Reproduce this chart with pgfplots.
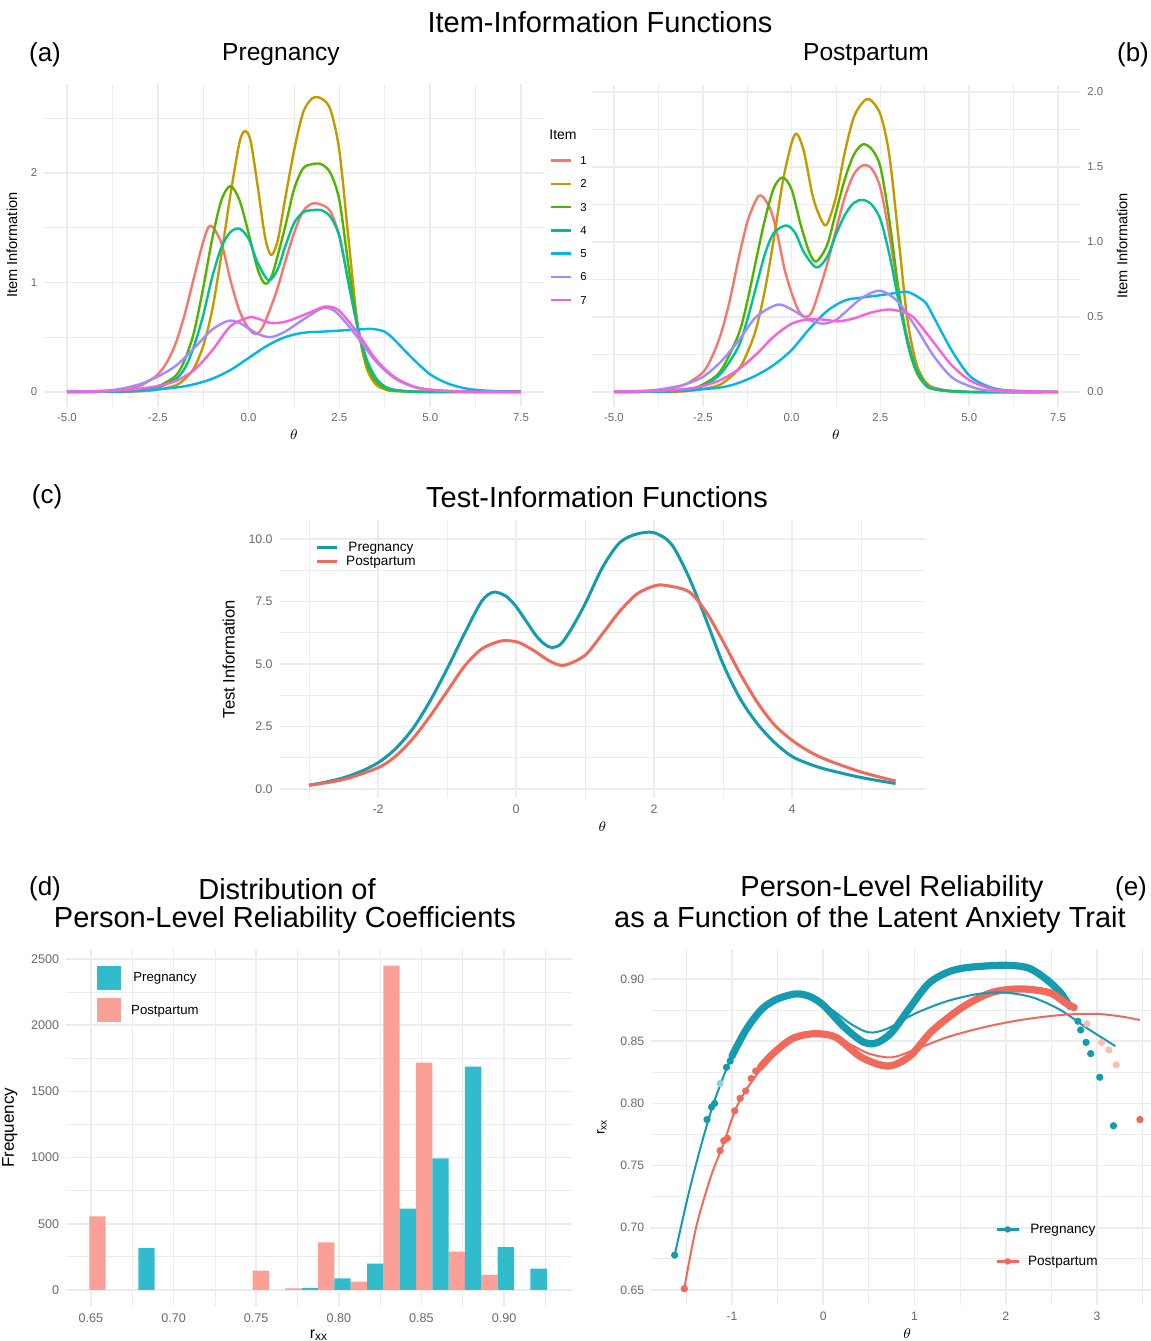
\documentclass[border=0pt]{standalone}
\usepackage{fontspec}
\setmainfont{Liberation Sans}
\usepackage{pgfplots}
\pgfplotsset{compat=1.18}

% ggplot-like colours
\definecolor{gridc}{RGB}{236,236,236}
\definecolor{tickc}{RGB}{105,105,105}
\definecolor{itemA}{HTML}{F8766D}
\definecolor{itemB}{HTML}{C49A00}
\definecolor{itemC}{HTML}{53B400}
\definecolor{itemD}{HTML}{00C094}
\definecolor{itemE}{HTML}{00B6EB}
\definecolor{itemF}{HTML}{A58AFF}
\definecolor{itemG}{HTML}{FB61D7}
\definecolor{pregC}{RGB}{20,155,175}
\definecolor{postC}{RGB}{240,105,90}
\definecolor{pregBar}{RGB}{50,186,205}
\definecolor{postBar}{RGB}{250,160,150}
\definecolor{pregLight}{RGB}{140,210,225}
\definecolor{postLight}{RGB}{250,190,180}

\newcommand\fs[1]{\fontsize{#1}{#1}\selectfont}

\pgfplotsset{
  gg/.style={
    scale only axis, anchor=south west,
    axis line style={draw=none},
    major tick length=0pt, minor tick length=0pt,
    xmajorgrids, ymajorgrids, xminorgrids, yminorgrids,
    major grid style={color=gridc, line width=0.8pt},
    minor grid style={color=gridc, line width=0.4pt},
    tick label style={text=tickc},
    every axis plot/.append style={line join=round},
  },
  item/.style={gg,
    xmin=-5.625, xmax=8.125,
    xtick={-5,-2.5,0,2.5,5,7.5},
    xticklabels={-5.0,-2.5,0.0,2.5,5.0,7.5},
    minor xtick={-3.75,-1.25,1.25,3.75,6.25},
    tick label style={font=\fs{5.7}},
    xlabel={$\theta$}, xlabel style={font=\fs{7}, yshift=3pt},
    ylabel={Item Information}, ylabel style={font=\fs{7.3}},
    every axis plot/.append style={smooth, line width=1.2pt},
  },
}

\begin{document}
\begin{tikzpicture}
\useasboundingbox (0,0) rectangle (575.5pt,670.5pt);

% ---------- titles ----------
\node[font=\fs{14.5}] at (300pt,659.5pt) {Item-Information Functions};
\node[font=\fs{13}] at (22.5pt,643pt) {(a)};
\node[font=\fs{12.3}] at (140.5pt,643pt) {Pregnancy};
\node[font=\fs{12.3}] at (433pt,643pt) {Postpartum};
\node[font=\fs{13}] at (566.5pt,643pt) {(b)};
\node[font=\fs{14.5}] at (298.5pt,422pt) {Test-Information Functions};
\node[font=\fs{13}] at (23.5pt,422pt) {(c)};
\node[font=\fs{13}] at (22.5pt,226pt) {(d)};
\node[font=\fs{14.5}] at (143.5pt,226pt) {Distribution of};
\node[font=\fs{14.5}] at (142.5pt,210.5pt) {Person-Level Reliability Coefficients};
\node[font=\fs{14.5}] at (446pt,226pt) {Person-Level Reliability};
\node[font=\fs{14.5}] at (435pt,210.5pt) {as a Function of the Latent Anxiety Trait};
\node[font=\fs{13}] at (565.5pt,226pt) {(e)};
\node[font=\fs{7}] at (281.5pt,603pt) {Item};

% ---------- (a) Pregnancy items ----------
\begin{axis}[item, at={(22.15pt,467.15pt)}, width=249.7pt, height=161.5pt,
  ymin=-0.135, ymax=2.815, ytick={0,1,2}, yticklabels={0,1,2},
  minor ytick={0.5,1.5,2.5},
  legend style={at={(1.012,0.776)}, anchor=north west, draw=none, fill=none,
    inner sep=0pt, font=\fs{5.7}, row sep=7.65pt, column sep=4pt,
    nodes={inner sep=0pt, text height=4pt, text depth=0pt}},
  legend image code/.code={\draw[#1, line width=1.2pt] (0pt,0pt) -- (10pt,0pt);},
]
\addplot[itemA] coordinates {(-5,0) (-4,0.005) (-3.5,0.02) (-3,0.055) (-2.75,0.1) (-2.5,0.16) (-2.25,0.27) (-2,0.45) (-1.75,0.72) (-1.5,1.05) (-1.25,1.37) (-1.05,1.52) (-0.75,1.36) (-0.5,1.02) (-0.25,0.74) (0,0.58) (0.2,0.53) (0.4,0.6) (0.75,0.9) (1,1.18) (1.25,1.45) (1.5,1.65) (1.75,1.72) (2,1.71) (2.25,1.65) (2.5,1.42) (2.75,1.0) (3,0.58) (3.25,0.27) (3.5,0.11) (3.75,0.045) (4,0.018) (4.5,0.004) (5,0.001) (6,0) (7.5,0)};
\addplot[itemB] coordinates {(-5,0) (-3.5,0.002) (-3,0.006) (-2.5,0.02) (-2,0.06) (-1.75,0.12) (-1.5,0.22) (-1.25,0.42) (-1,0.75) (-0.75,1.25) (-0.5,1.8) (-0.25,2.28) (-0.1,2.38) (0.05,2.3) (0.25,1.88) (0.45,1.42) (0.62,1.25) (0.8,1.38) (1,1.75) (1.25,2.2) (1.5,2.55) (1.75,2.68) (2,2.68) (2.25,2.58) (2.5,2.2) (2.75,1.4) (3,0.62) (3.25,0.22) (3.5,0.07) (3.75,0.025) (4,0.008) (5,0) (7.5,0)};
\addplot[itemC] coordinates {(-5,0) (-4,0.002) (-3,0.012) (-2.5,0.05) (-2,0.15) (-1.75,0.3) (-1.5,0.55) (-1.25,0.95) (-1,1.4) (-0.75,1.75) (-0.5,1.88) (-0.25,1.75) (0,1.45) (0.25,1.12) (0.45,0.99) (0.65,1.07) (1,1.5) (1.25,1.85) (1.5,2.04) (1.75,2.08) (2,2.08) (2.25,2.0) (2.5,1.75) (2.75,1.15) (3,0.6) (3.25,0.26) (3.5,0.1) (3.75,0.035) (4,0.012) (5,0) (7.5,0)};
\addplot[itemD] coordinates {(-5,0) (-4,0.002) (-3,0.012) (-2.5,0.04) (-2,0.12) (-1.75,0.22) (-1.5,0.42) (-1.25,0.7) (-1,1.05) (-0.75,1.32) (-0.5,1.46) (-0.25,1.49) (0,1.4) (0.25,1.18) (0.55,1.02) (0.8,1.12) (1,1.32) (1.25,1.54) (1.5,1.64) (1.75,1.66) (2,1.66) (2.25,1.6) (2.5,1.42) (2.75,1.0) (3,0.6) (3.25,0.3) (3.5,0.13) (3.75,0.05) (4,0.02) (4.5,0.003) (5,0) (7.5,0)};
\addplot[itemE] coordinates {(-5,0) (-4,0.003) (-3,0.012) (-2,0.04) (-1.5,0.07) (-1,0.12) (-0.5,0.2) (0,0.31) (0.5,0.42) (1,0.5) (1.5,0.54) (2,0.55) (2.5,0.56) (3,0.57) (3.4,0.575) (3.75,0.55) (4,0.48) (4.5,0.31) (5,0.16) (5.5,0.075) (6,0.03) (6.5,0.012) (7,0.005) (7.5,0.002)};
\addplot[itemF] coordinates {(-5,0.002) (-4,0.01) (-3.5,0.03) (-3,0.07) (-2.5,0.14) (-2,0.24) (-1.5,0.4) (-1,0.57) (-0.55,0.65) (-0.25,0.63) (0,0.58) (0.25,0.53) (0.6,0.5) (1,0.55) (1.5,0.66) (2,0.76) (2.25,0.76) (2.5,0.7) (3,0.5) (3.5,0.28) (4,0.13) (4.5,0.05) (5,0.02) (6,0.002) (7.5,0)};
\addplot[itemG] coordinates {(-5,0.001) (-4,0.005) (-3,0.03) (-2.5,0.055) (-2,0.1) (-1.5,0.2) (-1,0.38) (-0.5,0.6) (0,0.68) (0.25,0.67) (0.6,0.63) (1,0.64) (1.5,0.7) (2,0.77) (2.2,0.78) (2.5,0.74) (3,0.54) (3.5,0.3) (4,0.14) (4.5,0.055) (5,0.02) (6,0.002) (7.5,0)};
\legend{1,2,3,4,5,6,7}
\end{axis}

% ---------- (b) Postpartum items ----------
\begin{axis}[item, at={(295.9pt,467.2pt)}, width=244.2pt, height=160.9pt,
  ymin=-0.0975, ymax=2.0475, ytick={0,0.5,1,1.5,2},
  yticklabels={0.0,0.5,1.0,1.5,2.0}, minor ytick={0.25,0.75,1.25,1.75},
  yticklabel pos=right,
]
\addplot[itemA] coordinates {(-5,0) (-4,0.005) (-3.5,0.02) (-3,0.05) (-2.5,0.13) (-2.25,0.23) (-2,0.38) (-1.75,0.6) (-1.5,0.88) (-1.25,1.13) (-1,1.28) (-0.85,1.31) (-0.6,1.22) (-0.4,1.05) (-0.2,0.82) (0,0.66) (0.2,0.54) (0.4,0.5) (0.6,0.55) (1,0.85) (1.25,1.08) (1.5,1.3) (1.75,1.45) (2,1.51) (2.25,1.49) (2.5,1.36) (2.75,1.05) (3,0.68) (3.25,0.37) (3.5,0.17) (3.75,0.07) (4,0.03) (4.5,0.005) (5,0) (7.5,0)};
\addplot[itemB] coordinates {(-5,0) (-3.5,0.002) (-3,0.005) (-2.5,0.02) (-2,0.05) (-1.5,0.15) (-1.25,0.26) (-1,0.42) (-0.75,0.68) (-0.5,1.02) (-0.25,1.4) (0,1.66) (0.15,1.72) (0.35,1.6) (0.6,1.3) (0.85,1.14) (1,1.12) (1.25,1.3) (1.5,1.6) (1.75,1.83) (2,1.93) (2.2,1.95) (2.5,1.85) (2.75,1.58) (3,1.05) (3.25,0.5) (3.5,0.2) (3.75,0.07) (4,0.02) (4.5,0.003) (5,0) (7.5,0)};
\addplot[itemC] coordinates {(-5,0) (-4,0.002) (-3,0.01) (-2.5,0.05) (-2,0.14) (-1.5,0.38) (-1.25,0.6) (-1,0.88) (-0.75,1.15) (-0.5,1.36) (-0.25,1.43) (0,1.35) (0.25,1.12) (0.5,0.93) (0.7,0.87) (1,0.98) (1.25,1.2) (1.5,1.42) (1.75,1.58) (2,1.65) (2.25,1.62) (2.5,1.5) (2.75,1.15) (3,0.7) (3.25,0.34) (3.5,0.14) (3.75,0.05) (4,0.02) (5,0) (7.5,0)};
\addplot[itemD] coordinates {(-5,0) (-4,0.002) (-3,0.01) (-2.5,0.04) (-2,0.12) (-1.5,0.3) (-1.25,0.48) (-1,0.7) (-0.75,0.92) (-0.5,1.06) (-0.15,1.11) (0.1,1.06) (0.35,0.93) (0.7,0.83) (1,0.9) (1.25,1.05) (1.5,1.18) (1.75,1.26) (2,1.28) (2.25,1.25) (2.5,1.15) (2.75,0.92) (3,0.62) (3.25,0.35) (3.5,0.16) (3.75,0.06) (4,0.02) (5,0) (7.5,0)};
\addplot[itemE] coordinates {(-5,0) (-4,0.002) (-3,0.01) (-2,0.03) (-1.5,0.06) (-1,0.11) (-0.5,0.18) (0,0.28) (0.5,0.42) (1,0.54) (1.5,0.61) (2,0.63) (2.5,0.645) (3,0.662) (3.3,0.665) (3.75,0.6) (4,0.5) (4.5,0.28) (5,0.11) (5.5,0.04) (6,0.012) (7,0.002) (7.5,0)};
\addplot[itemF] coordinates {(-5,0.002) (-4,0.01) (-3.5,0.025) (-3,0.05) (-2.5,0.1) (-2,0.2) (-1.5,0.34) (-1,0.5) (-0.4,0.582) (0,0.55) (0.5,0.48) (0.9,0.455) (1.25,0.48) (1.5,0.53) (2,0.63) (2.5,0.675) (3,0.6) (3.5,0.43) (4,0.24) (4.5,0.1) (5,0.04) (5.5,0.01) (6.5,0) (7.5,0)};
\addplot[itemG] coordinates {(-5,0.001) (-4,0.005) (-3,0.02) (-2.5,0.04) (-2,0.08) (-1.5,0.15) (-1,0.25) (-0.5,0.37) (0,0.455) (0.5,0.485) (1,0.48) (1.3,0.47) (1.75,0.49) (2.25,0.53) (2.75,0.55) (3.25,0.525) (3.5,0.48) (4,0.33) (4.5,0.18) (5,0.08) (5.5,0.03) (6,0.01) (7.5,0)};
\end{axis}

% ---------- (c) Test information ----------
\begin{axis}[gg, at={(139.85pt,271.5pt)}, width=322.6pt, height=139pt,
  xmin=-3.425, xmax=5.925, ymin=-0.36, ymax=10.76,
  xtick={-2,0,2,4}, xticklabels={-2,0,2,4}, minor xtick={-3,-1,1,3,5},
  ytick={0,2.5,5,7.5,10}, yticklabels={0.0,2.5,5.0,7.5,10.0},
  minor ytick={1.25,3.75,6.25,8.75},
  tick label style={font=\fs{6.2}},
  xlabel={$\theta$}, xlabel style={font=\fs{7.5}, yshift=3pt},
  ylabel={Test Information}, ylabel style={font=\fs{8.3}},
  legend style={at={(0.0547,0.917)}, anchor=north west, draw=none, fill=none,
    inner sep=0pt, font=\fs{6.8}, row sep=3pt, column sep=4pt,
    nodes={inner sep=0pt, text height=4pt, text depth=0pt}},
  legend image code/.code={\draw[#1, line width=1.4pt] (0pt,0pt) -- (10pt,0pt);},
]
\addplot[pregC, smooth, line width=1.5pt] coordinates {(-3,0.15) (-2.75,0.28) (-2.5,0.45) (-2.25,0.7) (-2,1.05) (-1.75,1.6) (-1.5,2.4) (-1.25,3.5) (-1,4.8) (-0.75,6.2) (-0.5,7.5) (-0.33,7.87) (-0.15,7.72) (0,7.3) (0.15,6.7) (0.3,6.1) (0.42,5.78) (0.52,5.66) (0.65,5.8) (0.8,6.4) (1,7.4) (1.25,8.85) (1.5,9.85) (1.75,10.2) (2,10.25) (2.25,9.8) (2.5,8.5) (2.75,6.8) (3,5.0) (3.25,3.6) (3.5,2.6) (3.75,1.85) (4,1.3) (4.25,1.0) (4.5,0.78) (5,0.46) (5.5,0.22)};
\addplot[postC, smooth, line width=1.5pt] coordinates {(-3,0.15) (-2.5,0.38) (-2,0.85) (-1.75,1.3) (-1.5,2.0) (-1.25,2.9) (-1,3.9) (-0.75,4.9) (-0.5,5.6) (-0.25,5.9) (-0.1,5.93) (0.05,5.85) (0.25,5.55) (0.5,5.1) (0.7,4.95) (1,5.35) (1.25,6.2) (1.5,7.1) (1.75,7.8) (2,8.12) (2.15,8.15) (2.5,7.9) (2.75,7.1) (3,5.9) (3.25,4.6) (3.5,3.45) (3.75,2.55) (4,1.95) (4.25,1.5) (4.5,1.17) (5,0.68) (5.5,0.32)};
\legend{Pregnancy,Postpartum}
\end{axis}

% ---------- (d) histogram of person-level reliability ----------
\begin{axis}[gg, at={(33.1pt,17.4pt)}, width=252.8pt, height=178.4pt,
  xmin=0.635, xmax=0.941, ymin=-122.5, ymax=2572.5,
  xtick={0.65,0.70,0.75,0.80,0.85,0.90},
  xticklabels={0.65,0.70,0.75,0.80,0.85,0.90},
  minor xtick={0.675,0.725,0.775,0.825,0.875,0.925},
  ytick={0,500,1000,1500,2000,2500},
  yticklabels={0,500,1000,1500,2000,2500},
  minor ytick={250,750,1250,1750,2250},
  tick label style={font=\fs{6.3}},
  xlabel={r\textsubscript{xx}}, xlabel style={font=\fs{8}, yshift=3pt},
  ylabel={Frequency}, ylabel style={font=\fs{8.5}},
  legend style={at={(0.061,0.956)}, anchor=north west, draw=none, fill=none,
    inner sep=0pt, font=\fs{6.6}, row sep=4.5pt, column sep=5pt,
    nodes={inner sep=0pt, text height=4pt, text depth=0pt}},
]
\addlegendimage{legend image code/.code={\fill[pregBar] (0pt,-5.75pt) rectangle (11.5pt,5.75pt);}}
\addlegendimage{legend image code/.code={\fill[postBar] (0pt,-5.75pt) rectangle (11.5pt,5.75pt);}}
\addplot[ybar, bar width=0.0099, bar shift=0pt, fill=postBar, draw=none, forget plot] coordinates {(0.6539,556) (0.7528,146) (0.7725,12) (0.7923,359) (0.8121,63) (0.8319,2450) (0.8516,1717) (0.8714,290) (0.8912,114)};
\addplot[ybar, bar width=0.0099, bar shift=0pt, fill=pregBar, draw=none, forget plot] coordinates {(0.6836,316) (0.7824,15) (0.8022,88) (0.8220,200) (0.8418,614) (0.8615,995) (0.8813,1687) (0.9011,323) (0.9209,162)};
\legend{Pregnancy,Postpartum}
\end{axis}

% ---------- (e) person-level reliability vs theta ----------
\begin{axis}[gg, at={(325.6pt,18.05pt)}, width=256pt, height=177.9pt,
  xmin=-1.885, xmax=3.725, ymin=0.638, ymax=0.924,
  xtick={-1,0,1,2,3}, xticklabels={-1,0,1,2,3},
  minor xtick={-1.5,-0.5,0.5,1.5,2.5,3.5},
  ytick={0.65,0.70,0.75,0.80,0.85,0.90},
  yticklabels={0.65,0.70,0.75,0.80,0.85,0.90},
  minor ytick={0.675,0.725,0.775,0.825,0.875},
  tick label style={font=\fs{6.1}},
  xlabel={$\theta$}, xlabel style={font=\fs{7.5}, yshift=3pt},
  ylabel={r\textsubscript{xx}}, ylabel style={font=\fs{7}},
  legend style={at={(0.6716,0.2245)}, anchor=north west, draw=none, fill=none,
    inner sep=0pt, font=\fs{6.8}, row sep=12pt, column sep=4pt,
    nodes={inner sep=0pt, text height=4pt, text depth=0pt}},
  legend image code/.code={\draw[#1, line width=1.3pt] (0pt,0pt) -- (11pt,0pt); \fill[#1] (5.5pt,0pt) circle (1.4pt);},
]
\addlegendimage{pregC}
\addlegendimage{postC}
% dense point clouds (drawn as thick bands)
\addplot[pregC, smooth, line width=3.6pt, line cap=round, forget plot] coordinates {(-1.0,0.838) (-0.93,0.848) (-0.83,0.861) (-0.67,0.876) (-0.5,0.884) (-0.3,0.888) (-0.15,0.886) (0,0.879) (0.22,0.862) (0.4,0.851) (0.5,0.848) (0.6,0.849) (0.75,0.857) (0.95,0.877) (1.15,0.896) (1.35,0.905) (1.56,0.909) (1.96,0.911) (2.24,0.909) (2.44,0.9) (2.6,0.889) (2.7,0.878)};
\addplot[postC, smooth, line width=3.6pt, line cap=round, forget plot] coordinates {(-0.69,0.829) (-0.55,0.84) (-0.34,0.852) (-0.1,0.856) (0.14,0.853) (0.42,0.837) (0.71,0.83) (0.95,0.838) (1.19,0.858) (1.52,0.877) (1.84,0.889) (2.16,0.892) (2.48,0.889) (2.65,0.881) (2.75,0.877)};
% sparse points
\addplot[only marks, mark=*, mark size=1.6pt, color=pregC, forget plot] coordinates {(-1.628,0.678) (-1.273,0.787) (-1.224,0.797) (-1.19,0.80) (-1.06,0.829) (-1.02,0.834) (2.79,0.866) (2.82,0.859) (2.88,0.849) (2.93,0.84) (3.03,0.821) (3.18,0.782)};
\addplot[only marks, mark=*, mark size=1.6pt, color=pregLight, forget plot] coordinates {(-1.13,0.816)};
\addplot[only marks, mark=*, mark size=1.6pt, color=postC, forget plot] coordinates {(-1.523,0.651) (-1.13,0.762) (-1.09,0.770) (-1.05,0.772) (-0.97,0.794) (-0.91,0.804) (-0.85,0.81) (-0.79,0.82) (-0.74,0.826) (3.47,0.787)};
\addplot[only marks, mark=*, mark size=1.6pt, color=postLight, forget plot] coordinates {(2.89,0.864) (3.05,0.849) (3.13,0.843) (3.21,0.831)};
% smooth fits
\addplot[pregC, smooth, line width=1pt, forget plot] coordinates {(-1.628,0.678) (-1.475,0.7275) (-1.333,0.7676) (-1.19,0.8024) (-1.0,0.838) (-0.8,0.863) (-0.6,0.879) (-0.35,0.887) (-0.1,0.884) (0.1,0.875) (0.3,0.864) (0.5,0.857) (0.7,0.86) (1.0,0.872) (1.35,0.882) (1.7,0.888) (2.0,0.889) (2.3,0.885) (2.6,0.875) (2.9,0.86) (3.2,0.846)};
\addplot[postC, smooth, line width=1pt, forget plot] coordinates {(-1.523,0.651) (-1.394,0.70) (-1.232,0.741) (-1.09,0.768) (-0.95,0.797) (-0.75,0.821) (-0.5,0.842) (-0.25,0.853) (0,0.855) (0.25,0.849) (0.5,0.84) (0.75,0.837) (1.0,0.843) (1.35,0.853) (1.75,0.861) (2.16,0.867) (2.6,0.871) (2.97,0.872) (3.25,0.87) (3.47,0.867)};
\legend{Pregnancy,Postpartum}
\end{axis}
\end{tikzpicture}
\end{document}
